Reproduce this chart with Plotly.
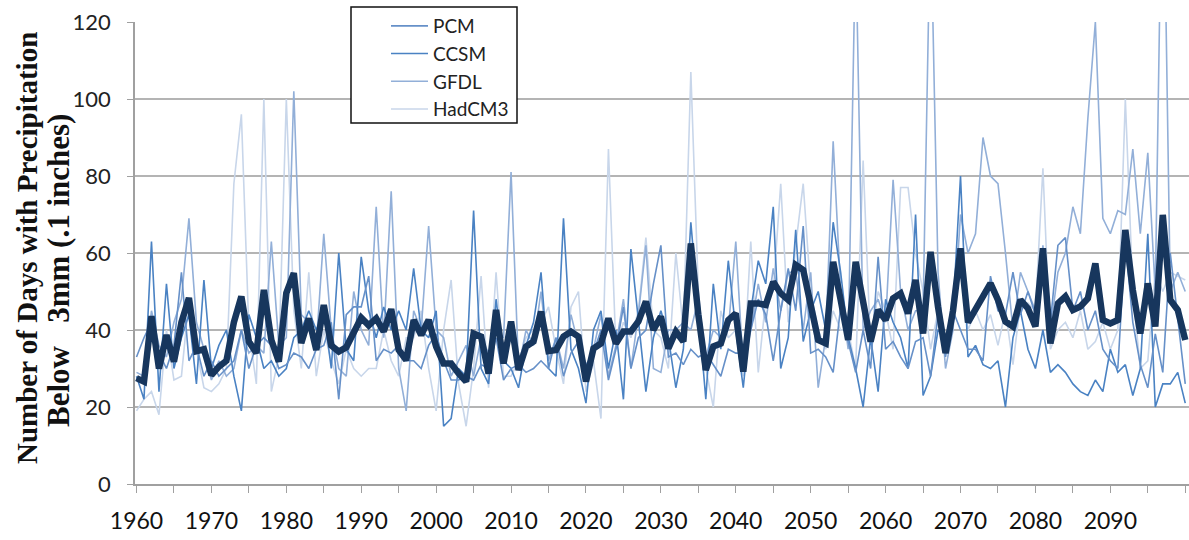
import plotly.graph_objects as go

years = list(range(1960, 2101))

pcm = [33, 38, 42, 34, 30, 36, 55, 32, 36, 28,
       32, 28, 30, 32, 40, 30, 36, 38, 36, 30,
       31, 34, 33, 30, 35, 36, 42, 22, 44, 46,
       46, 54, 32, 35, 34, 36, 32, 32, 30, 36,
       39, 32, 27, 27, 28, 27, 31, 30, 38, 27,
       30, 31, 29, 30, 32, 30, 38, 28, 34, 37,
       31, 34, 40, 27, 35, 46, 30, 38, 40, 52,
       62, 33, 34, 31, 35, 33, 34, 31, 28, 35,
       34, 34, 40, 48, 44, 32, 45, 56, 45, 67,
       34, 35, 33, 29, 46, 37, 29, 40, 30, 59,
       35, 37, 33, 30, 37, 38, 28, 44, 33, 45,
       40, 35, 35, 32, 54, 45, 44, 55, 44, 50,
       44, 61, 42, 62, 64, 45, 50, 40, 45, 35,
       32, 30, 63, 42, 31, 25, 39, 29, 60, 43,
       26]

ccsm = [28, 22, 63, 24, 52, 30, 38, 44, 26, 53,
        30, 36, 40, 28, 19, 44, 38, 30, 32, 28,
        30, 38, 40, 45, 40, 45, 30, 60, 35, 32,
        59, 45, 38, 46, 40, 45, 40, 56, 40, 38,
        45, 15, 17, 30, 28, 71, 30, 26, 48, 32,
        30, 25, 36, 42, 55, 30, 28, 69, 35, 30,
        21, 40, 45, 30, 40, 22, 61, 42, 24, 38,
        45, 38, 25, 35, 68, 45, 22, 52, 35, 58,
        40, 25, 45, 58, 52, 72, 30, 38, 66, 37,
        45, 50, 40, 68, 55, 38, 30, 20, 38, 24,
        48, 42, 38, 30, 70, 23, 28, 40, 38, 45,
        80, 33, 36, 31, 30, 32, 20, 38, 45, 35,
        30, 40, 29, 31, 29, 26, 24, 23, 27, 24,
        35, 29, 31, 23, 30, 65, 20, 26, 26, 29,
        21]

gfdl = [29, 28, 45, 36, 33, 42, 48, 69, 42, 35,
        27, 32, 28, 30, 40, 34, 36, 34, 63, 36,
        38, 102, 44, 42, 36, 65, 40, 30, 28, 50,
        40, 36, 72, 38, 76, 30, 19, 45, 40, 67,
        40, 38, 28, 32, 36, 28, 38, 34, 40, 38,
        81, 30, 40, 36, 50, 32, 38, 30, 44, 36,
        30, 35, 44, 28, 36, 48, 30, 44, 62, 30,
        29, 40, 40, 42, 40, 48, 33, 40, 38, 40,
        63, 30, 40, 52, 42, 56, 45, 55, 55, 40,
        55, 25, 38, 89, 50, 35, 142, 40, 45, 48,
        42, 79, 50, 40, 45, 45, 150, 55, 30, 40,
        70, 60, 65, 90, 80, 78, 60, 40, 55, 50,
        45, 62, 40, 55, 60, 72, 65, 95, 120, 69,
        65, 71, 70, 87, 65, 86, 50, 175, 50, 55,
        50]

hadcm3 = [19, 22, 24, 18, 40, 27, 28, 48, 35, 25,
          24, 26, 30, 78, 96, 40, 26, 100, 24, 33,
          100, 45, 30, 55, 28, 40, 32, 26, 35, 30,
          28, 30, 30, 40, 32, 28, 38, 38, 45, 30,
          19, 40, 53, 26, 15, 30, 54, 25, 55, 28,
          28, 32, 38, 40, 42, 46, 35, 26, 46, 50,
          24, 32, 17, 87, 35, 42, 38, 45, 64, 40,
          38, 30, 60, 40, 107, 50, 30, 20, 45, 38,
          40, 28, 63, 29, 48, 50, 78, 42, 62, 78,
          50, 40, 35, 45, 40, 40, 30, 84, 35, 50,
          45, 35, 77, 77, 60, 50, 35, 45, 35, 50,
          55, 40, 45, 40, 44, 36, 45, 31, 47, 47,
          45, 82, 35, 40, 42, 38, 45, 35, 37, 42,
          35, 40, 100, 50, 30, 32, 55, 50, 55, 54,
          53]

mean = [27.5, 26.6, 43.6, 30, 38.7, 31.8, 42, 48.3, 34.5, 35,
        28.3, 30.5, 32, 42, 48.7, 37, 34, 50.4, 37.4, 31.8,
        49.6, 54.8, 36.6, 43, 34.8, 46.5, 36, 34.4, 35.5, 39.5,
        43.2, 41.2, 43, 39.6, 45.4, 34.8, 32.2, 42.6, 38.7, 42.6,
        35.7, 31.3, 31.3, 28.7, 26.6, 39.1, 38.3, 28.7, 45.2, 31.3,
        42.2, 29.6, 35.7, 37, 44.8, 34.5, 34.8, 38.3, 39.6, 38.3,
        26.6, 35.2, 36.5, 43, 36.5, 39.6, 39.6, 42.2, 47.4, 40,
        43.5, 35.2, 39.6, 37, 62.5, 44, 29.6, 35.7, 36.5, 42.6,
        44.3, 29.2, 46.9, 46.9, 46.5, 52.5, 49.5, 47.8, 56.9, 55.6,
        46.1, 37.4, 36.5, 57.7, 47.8, 37.4, 57.7, 46.1, 37, 45.2,
        42.6, 48.2, 49.5, 44.3, 53, 39.1, 60.3, 46, 34, 45,
        61.2, 42, 45.2, 48.2, 52.1, 47.8, 42.2, 40.9, 47.8, 45.6,
        40.9, 61.2, 36.5, 46.9, 48.7, 45.2, 46.1, 48.2, 57.3, 42.6,
        41.7, 42.6, 66, 50.4, 39.1, 52.1, 40.9, 69.9, 47.8, 45.2,
        37.4]

series_names = ["PCM", "CCSM", "GFDL", "HadCM3"]
series_values = [pcm, ccsm, gfdl, hadcm3]
series_colors = ["#6690c8", "#4a82c3", "#92afd8", "#c8d6ea"]

x_tick_vals = list(range(1960, 2100, 10))
x_tick_text = [str(v) for v in x_tick_vals]
y_tick_vals = [0, 20, 40, 60, 80, 100, 120]

W, H = 1189, 540
L, R, T, B = 135, 0, 22, 56
PW, PH = W - L - R, H - T - B

fig = go.Figure()
# draw lightest first so darker lines sit on top
order = [3, 2, 1, 0]
for i in order:
    fig.add_trace(go.Scatter(
        x=years, y=series_values[i], mode="lines", name=series_names[i],
        line=dict(color=series_colors[i], width=1.6),
        legendgroup=series_names[i], legendrank=i + 1,
    ))
fig.add_trace(go.Scatter(
    x=years, y=mean, mode="lines", name="Mean", showlegend=False,
    line=dict(color="#17365d", width=6.5),
))

def px2paper_x(px):
    return (px - L) / PW

def px2paper_y(py):
    return (H - B - py) / PH

grid = "#b4b4b4"
fig.update_layout(
    width=W, height=H,
    margin=dict(l=L, r=R, t=T, b=B),
    paper_bgcolor="white", plot_bgcolor="white",
    font=dict(family="Lato", size=19, color="#222222"),
    showlegend=True,
    legend=dict(
        x=px2paper_x(386), xanchor="left",
        y=px2paper_y(7), yanchor="top",
        bgcolor="rgba(0,0,0,0)", borderwidth=0,
        font=dict(family="Lato", size=19, color="#222222"),
        traceorder="grouped", tracegroupgap=0, itemwidth=37,
    ),
    xaxis=dict(
        range=[1959.8, 2100.5],
        tickmode="array", tickvals=x_tick_vals, ticktext=x_tick_text,
        ticks="outside", ticklen=7, tickcolor="#a0a0a0", tickwidth=1,
        showline=True, linecolor="#a0a0a0", linewidth=1.5,
        showgrid=False, zeroline=False,
        minor=dict(tickmode="linear", tick0=1960, dtick=5, ticks="outside",
                   ticklen=7, tickcolor="#a0a0a0", showgrid=False),
        tickfont=dict(family="Lato", size=23, color="#111111"),
        ticklabelstandoff=9,
    ),
    yaxis=dict(
        range=[0, 120], tickvals=y_tick_vals,
        ticks="outside", ticklen=6, tickcolor="#a0a0a0",
        showline=True, linecolor="#a0a0a0", linewidth=1.5,
        showgrid=True, gridcolor=grid, gridwidth=1.5, zeroline=False,
        tickfont=dict(family="Lato", size=22, color="#222222"),
        ticklabelstandoff=12,
    ),
    shapes=[dict(
        type="rect", xref="paper", yref="paper",
        x0=px2paper_x(351), x1=px2paper_x(517),
        y0=px2paper_y(123), y1=px2paper_y(7),
        line=dict(color="#111111", width=1.5), fillcolor="white", layer="above",
    )],
    annotations=[
        dict(text="<b>Number of Days with Precipitation</b>", textangle=-90,
             xref="paper", yref="paper", x=px2paper_x(27), y=px2paper_y(248),
             xanchor="center", yanchor="middle", showarrow=False,
             font=dict(family="Liberation Serif", size=29, color="#111111")),
        dict(text="<b>Below\u00a0\u00a0 3mm (.1 inches)</b>", textangle=-90,
             xref="paper", yref="paper", x=px2paper_x(58), y=px2paper_y(271),
             xanchor="center", yanchor="middle", showarrow=False,
             font=dict(family="Liberation Serif", size=31, color="#111111")),
    ],
)

fig.write_html("out.html")
